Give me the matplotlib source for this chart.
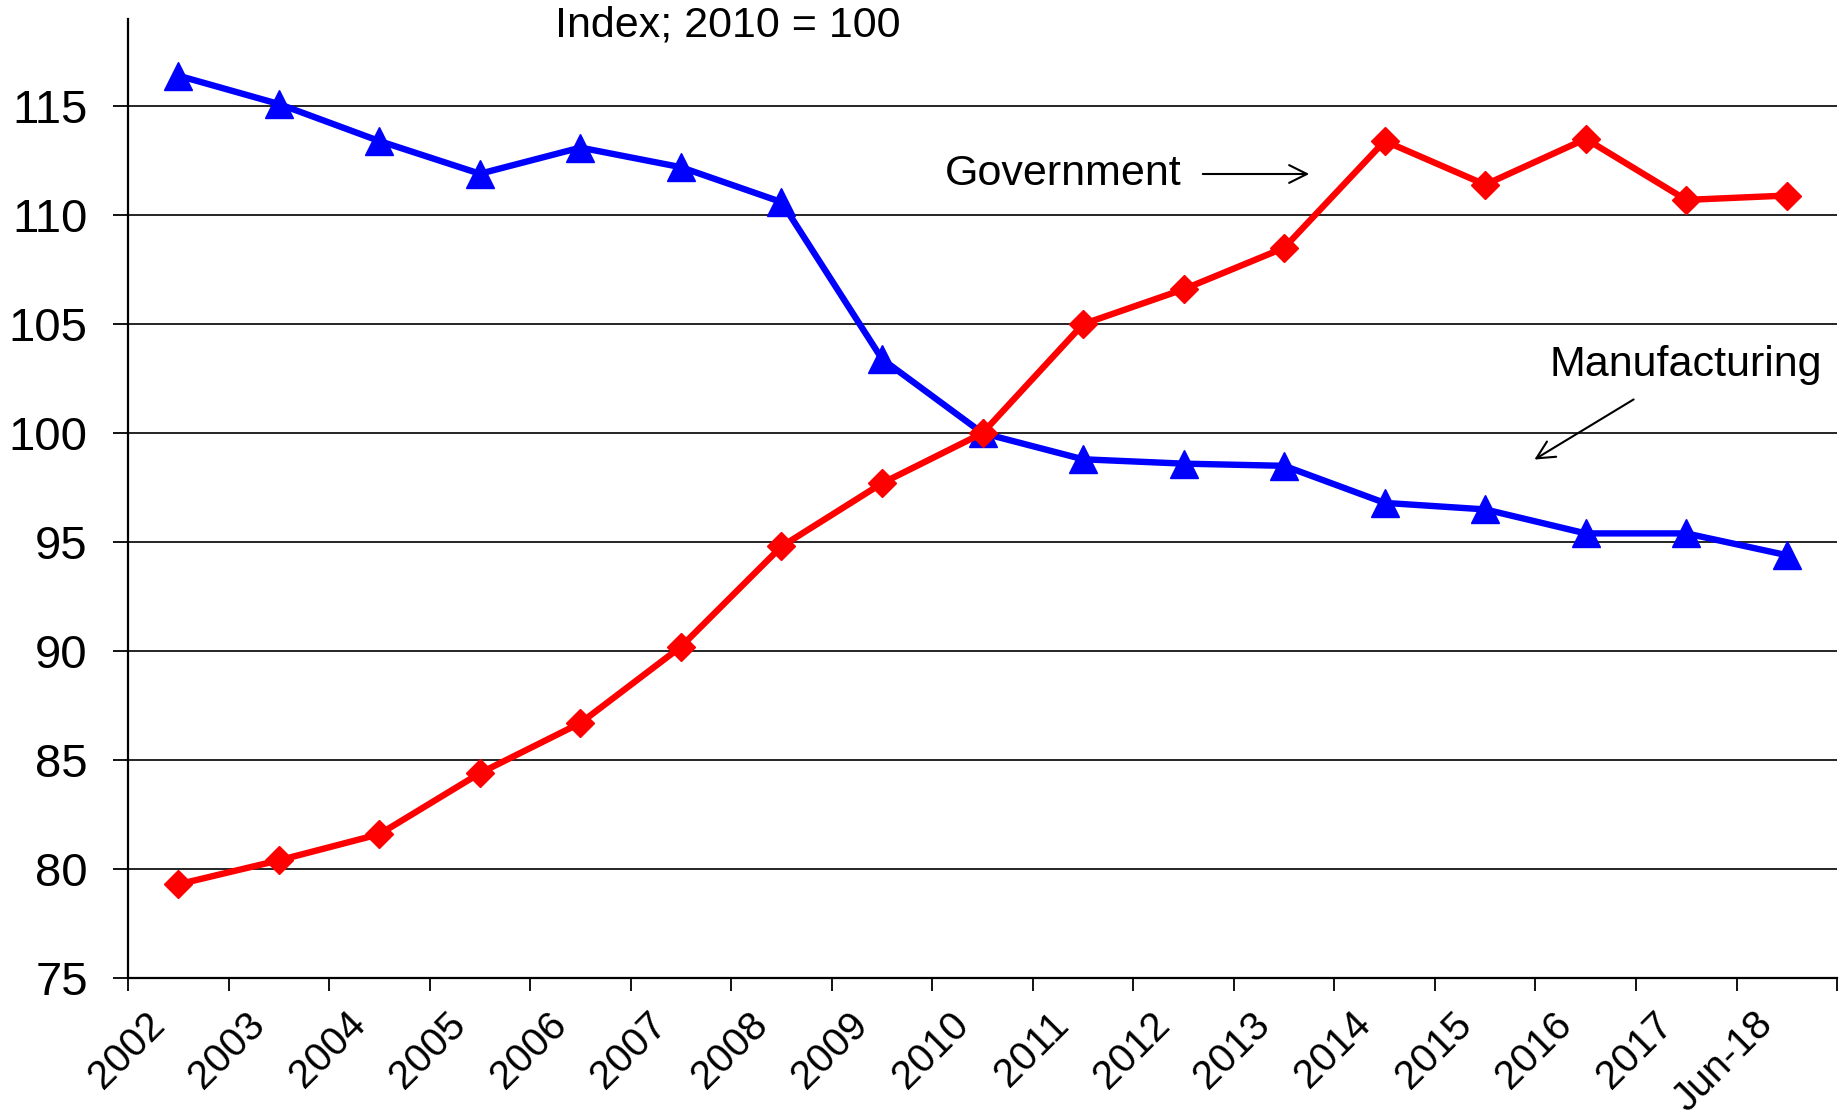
import matplotlib
matplotlib.use('Agg')
import matplotlib.pyplot as plt
import matplotlib.transforms as mtransforms
import numpy as np

plt.rcParams['font.family'] = ['Liberation Sans', 'DejaVu Sans']

# categories and index values (2010 = 100)
years = ['2002', '2003', '2004', '2005', '2006', '2007', '2008', '2009', '2010',
         '2011', '2012', '2013', '2014', '2015', '2016', '2017', 'Jun-18']
manufacturing = [116.4, 115.1, 113.4, 111.9, 113.1, 112.2, 110.6, 103.4, 100.0,
                 98.8, 98.6, 98.5, 96.8, 96.5, 95.4, 95.4, 94.4]
government = [79.3, 80.4, 81.6, 84.4, 86.7, 90.2, 94.8, 97.7, 100.0,
              105.0, 106.6, 108.5, 113.4, 111.4, 113.5, 110.7, 110.9]
yticks = [75, 80, 85, 90, 95, 100, 105, 110, 115]

W, H = 1845, 1117
fig = plt.figure(figsize=(W / 100, H / 100), dpi=100)
ax = fig.add_axes([0.0694, 0.1244, 0.9263, 0.8586])

x = np.arange(len(years)) + 0.5

# grid lines
for v in yticks[1:]:
    ax.axhline(v, color='black', lw=1.2, zorder=1)

ax.plot(x, manufacturing, color='#0000FF', lw=4.6, marker='^', markersize=20,
        zorder=3, clip_on=False)
ax.plot(x, government, color='#FF0000', lw=4.6, marker='D', markersize=14,
        zorder=3, clip_on=False)

ax.set_xlim(0, len(years))
ax.set_ylim(75, 119)
ax.set_yticks(yticks)
ax.tick_params(axis='y', length=11, width=1.3, pad=18, labelsize=34, direction='out')

ax.set_xticks(np.arange(len(years) + 1))
ax.set_xticklabels([])
ax.tick_params(axis='x', which='major', length=9, width=1.3, direction='out')
ax.set_xticks(x, minor=True)
ax.set_xticklabels(years, minor=True, rotation=45, ha='right', va='center',
                   rotation_mode='anchor', fontsize=29)
ax.tick_params(axis='x', which='minor', length=0, pad=29)
offset = mtransforms.ScaledTranslation(-20 / 100, 0, fig.dpi_scale_trans)
for lab in ax.get_xticklabels(minor=True):
    lab.set_transform(lab.get_transform() + offset)

for s in ['top', 'right']:
    ax.spines[s].set_visible(False)
for s in ['left', 'bottom']:
    ax.spines[s].set_linewidth(1.6)

fig.text(728 / W, 1 - 25 / H, 'Index; 2010 = 100', fontsize=31, ha='center', va='center')

ax.annotate('', xy=(1312, H - 174), xytext=(1200, H - 174), xycoords='figure pixels',
            textcoords='figure pixels',
            arrowprops=dict(arrowstyle='->', color='black', lw=1.5, mutation_scale=32))
ax.annotate('', xy=(1532, H - 461), xytext=(1636, H - 398), xycoords='figure pixels',
            textcoords='figure pixels',
            arrowprops=dict(arrowstyle='->', color='black', lw=1.5, mutation_scale=32))
fig.text(1063 / W, 1 - 174 / H, 'Government', fontsize=31, ha='center', va='center')
fig.text(1686 / W, 1 - 365 / H, 'Manufacturing', fontsize=31, ha='center', va='center')

fig.savefig('out.png', dpi=100)
